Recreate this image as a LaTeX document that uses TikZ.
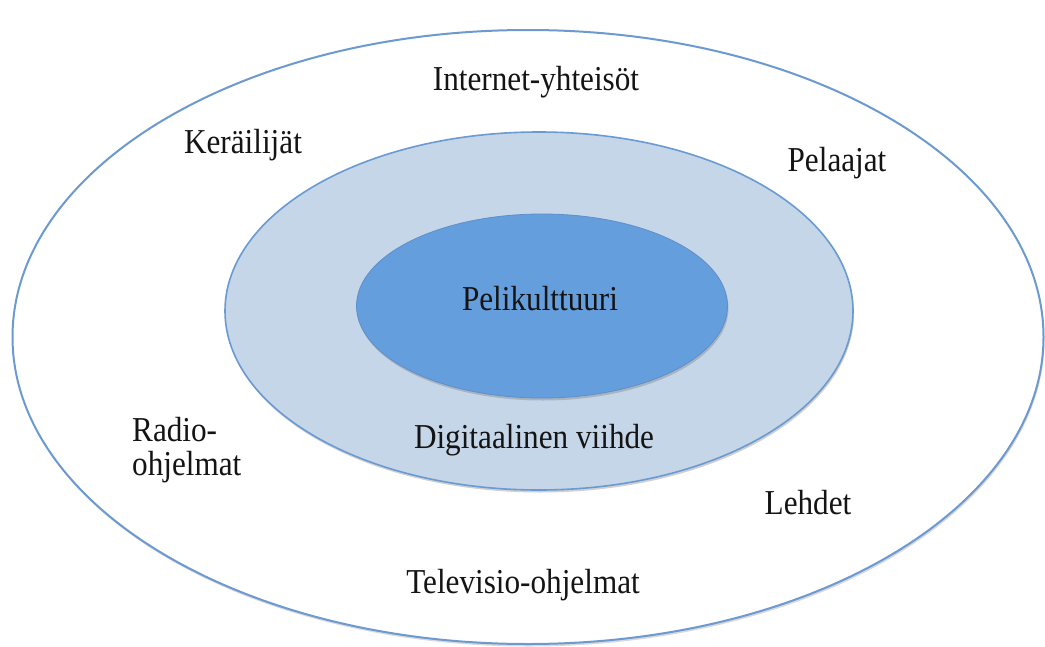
\documentclass[tikz,border=0pt]{standalone}
\usepackage{fontspec}
\usepackage{graphicx}
\setmainfont{Liberation Serif}
\usetikzlibrary{shapes.geometric,shadows}
\definecolor{ringline}{HTML}{6C9AD0}
\definecolor{midfill}{HTML}{C5D6E8}
\definecolor{midline}{HTML}{6A9AD2}
\definecolor{corefill}{HTML}{659EDC}
\definecolor{coreline}{HTML}{5E8FCB}
\newcommand{\tallt}[1]{\scalebox{1}[1.12]{#1}}
\tikzset{
  ring/.style={ellipse, inner sep=0pt, draw=ringline, line width=2pt, fill=white,
    drop shadow={shadow xshift=1pt, shadow yshift=-2.5pt, opacity=0.25, fill=black!60}},
  midring/.style={ellipse, inner sep=0pt, draw=midline, line width=1.6pt, fill=midfill,
    drop shadow={shadow xshift=1pt, shadow yshift=-2.5pt, opacity=0.3, fill=black!60}},
  corering/.style={ellipse, inner sep=0pt, draw=coreline, line width=0.8pt, fill=corefill,
    drop shadow={shadow xshift=1pt, shadow yshift=-2.5pt, opacity=0.3, fill=black!60}},
  lbl/.style={font=\fontsize{31.2}{37}\selectfont, text=black!92, inner sep=0pt}
}
\begin{document}
\begin{tikzpicture}[x=1pt,y=-1pt]
\useasboundingbox (0,0) rectangle (1045,646);
\node[ring, minimum width=1031pt, minimum height=614pt] (outer) at (528,337) {};
\node[midring, minimum width=628pt, minimum height=358pt] (mid) at (539,311) {};
\node[corering, minimum width=371pt, minimum height=184pt] (core) at (542,306) {};
\node[lbl] (core-t) at (540,299) {\tallt{Pelikulttuuri}};
\node[lbl] (mid-t) at (534,440) {\tallt{Digitaalinen viihde}};
\node[lbl] (net) at (536,82) {\tallt{Internet-yhteisöt}};
\node[lbl] (ker) at (243,145) {\tallt{Keräilijät}};
\node[lbl] (pel) at (837,163) {\tallt{Pelaajat}};
\node[lbl] (rad1) at (132,430) [anchor=west] {\tallt{Radio-}};
\node[lbl] (rad2) at (132,467) [anchor=west] {\tallt{ohjelmat}};
\node[lbl] (leh) at (808,503) {\tallt{Lehdet}};
\node[lbl] (tv) at (523,585) {\tallt{Televisio-ohjelmat}};
\end{tikzpicture}
\end{document}
